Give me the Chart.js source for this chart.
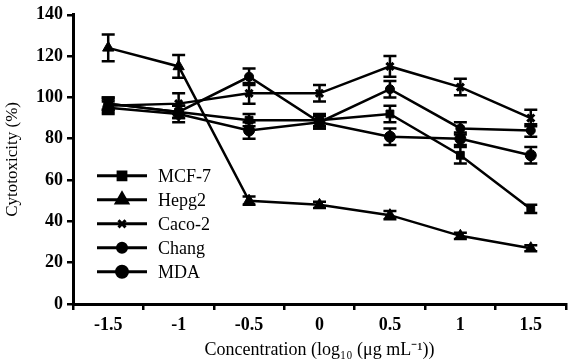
<!DOCTYPE html>
<html lang="en">
<head>
<meta charset="UTF-8">
<title>Cytotoxicity</title>
<script src="https://cdn.jsdelivr.net/npm/chart.js"></script>
<style>
  html, body { margin: 0; padding: 0; background: #fff; }
  canvas { display: block; }
</style>
</head>
<body>
<canvas id="chart" width="574" height="362"></canvas>
<script>
// x categories (log10 concentration)
const categories = ['-1.5', '-1', '-0.5', '0', '0.5', '1', '1.5'];

// cytotoxicity (%) and error bars
const mcf7     = [97, 93, 89, 89, 92, 72, 46];
const mcf7Err  = [3, 3, 3, 3, 4, 4, 2];
const hepg2    = [124, 115, 50, 48, 43, 33, 27];
const hepg2Err = [6.5, 5.5, 2, 1.5, 2, 1.5, 1.5];
const caco2    = [96, 97, 102, 102, 115, 105, 90];
const caco2Err = [3, 5, 5, 4, 5, 4, 4];
const chang    = [97, 93, 110, 88, 104, 85, 84];
const changErr = [3, 3, 4, 3, 4, 3, 3];
const mda      = [95, 92, 84, 88, 81, 80, 72];
const mdaErr   = [3, 4, 4, 3, 4, 3, 4];

const serif = '"Liberation Serif", "Times New Roman", serif';

function series(label, data, err, style, radius) {
    return {
        label: label,
        data: data,
        err: err,
        borderColor: '#000',
        backgroundColor: '#000',
        borderWidth: 2.5,
        pointStyle: style,
        pointRadius: radius,
        pointBorderWidth: style === 'crossRot' ? 3 : 1,
        tension: 0
    };
}

// vertical error bars with caps, positioned through the chart's scales
const errorBars = {
    id: 'errorBars',
    afterDatasetsDraw(chart) {
        const ctx = chart.ctx;
        const y = chart.scales.y;
        ctx.save();
        ctx.strokeStyle = '#000';
        ctx.lineWidth = 2.5;
        chart.data.datasets.forEach((ds, i) => {
            const meta = chart.getDatasetMeta(i);
            meta.data.forEach((pt, j) => {
                const e = ds.err[j];
                const top = y.getPixelForValue(ds.data[j] + e);
                const bot = y.getPixelForValue(ds.data[j] - e);
                ctx.beginPath();
                ctx.moveTo(pt.x, top); ctx.lineTo(pt.x, bot);
                ctx.moveTo(pt.x - 6.5, top); ctx.lineTo(pt.x + 6.5, top);
                ctx.moveTo(pt.x - 6.5, bot); ctx.lineTo(pt.x + 6.5, bot);
                ctx.stroke();
            });
        });
        ctx.restore();
    }
};

// legend drawn inside the plot area, lower left
const innerLegend = {
    id: 'innerLegend',
    afterDraw(chart) {
        const ctx = chart.ctx;
        const area = chart.chartArea;
        const x0 = area.left + 24, x1 = area.left + 74;
        ctx.save();
        chart.data.datasets.forEach((ds, i) => {
            const yy = area.top + 161 + i * 24;
            ctx.strokeStyle = '#000';
            ctx.fillStyle = '#000';
            ctx.lineWidth = 3;
            ctx.beginPath();
            ctx.moveTo(x0, yy); ctx.lineTo(x1, yy);
            ctx.stroke();
            Chart.helpers.drawPoint(ctx, {
                pointStyle: ds.pointStyle,
                radius: ds.pointRadius,
                borderWidth: ds.pointBorderWidth,
                rotation: 0
            }, (x0 + x1) / 2, yy);
            ctx.font = '18px ' + serif;
            ctx.textBaseline = 'middle';
            ctx.fillText(ds.label, x1 + 11, yy + 1);
        });
        ctx.restore();
    }
};

new Chart(document.getElementById('chart'), {
    type: 'line',
    data: {
        labels: categories,
        datasets: [
            series('MCF-7', mcf7, mcf7Err, 'rect', 5.5),
            series('Hepg2', hepg2, hepg2Err, 'triangle', 6.5),
            series('Caco-2', caco2, caco2Err, 'crossRot', 5),
            series('Chang', chang, changErr, 'circle', 4.5),
            series('MDA', mda, mdaErr, 'circle', 5.5)
        ]
    },
    options: {
        responsive: false,
        animation: false,
        layout: { padding: { top: 9, right: 1, left: 2, bottom: 1 } },
        plugins: {
            legend: { display: false },
            tooltip: { enabled: false }
        },
        scales: {
            x: {
                offset: true,
                afterFit(scale) { scale.height = 57; },
                grid: { offset: true, drawOnChartArea: false, tickLength: 6, color: '#000', lineWidth: 2.5 },
                border: { color: '#000', width: 3 },
                ticks: { color: '#000', padding: 5, font: { family: serif, size: 18, weight: 'bold' } },
                title: {
                    display: true,
                    text: 'Concentration (log\u2081\u2080 (\u03bcg mL\u207b\u00b9))',
                    color: '#000',
                    padding: { top: 5, bottom: 0 },
                    font: { family: serif, size: 18 }
                }
            },
            y: {
                min: 0,
                max: 140,
                afterFit(scale) { scale.width = 71; },
                grid: { drawOnChartArea: false, tickLength: 6, color: '#000', lineWidth: 2.5 },
                border: { color: '#000', width: 3 },
                ticks: { stepSize: 20, color: '#000', padding: 4, font: { family: serif, size: 18, weight: 'bold' } },
                title: {
                    display: true,
                    text: 'Cytotoxicity (%)',
                    color: '#000',
                    padding: { top: 0, bottom: 6 },
                    font: { family: serif, size: 17 }
                }
            }
        }
    },
    plugins: [errorBars, innerLegend]
});
</script>
</body>
</html>
